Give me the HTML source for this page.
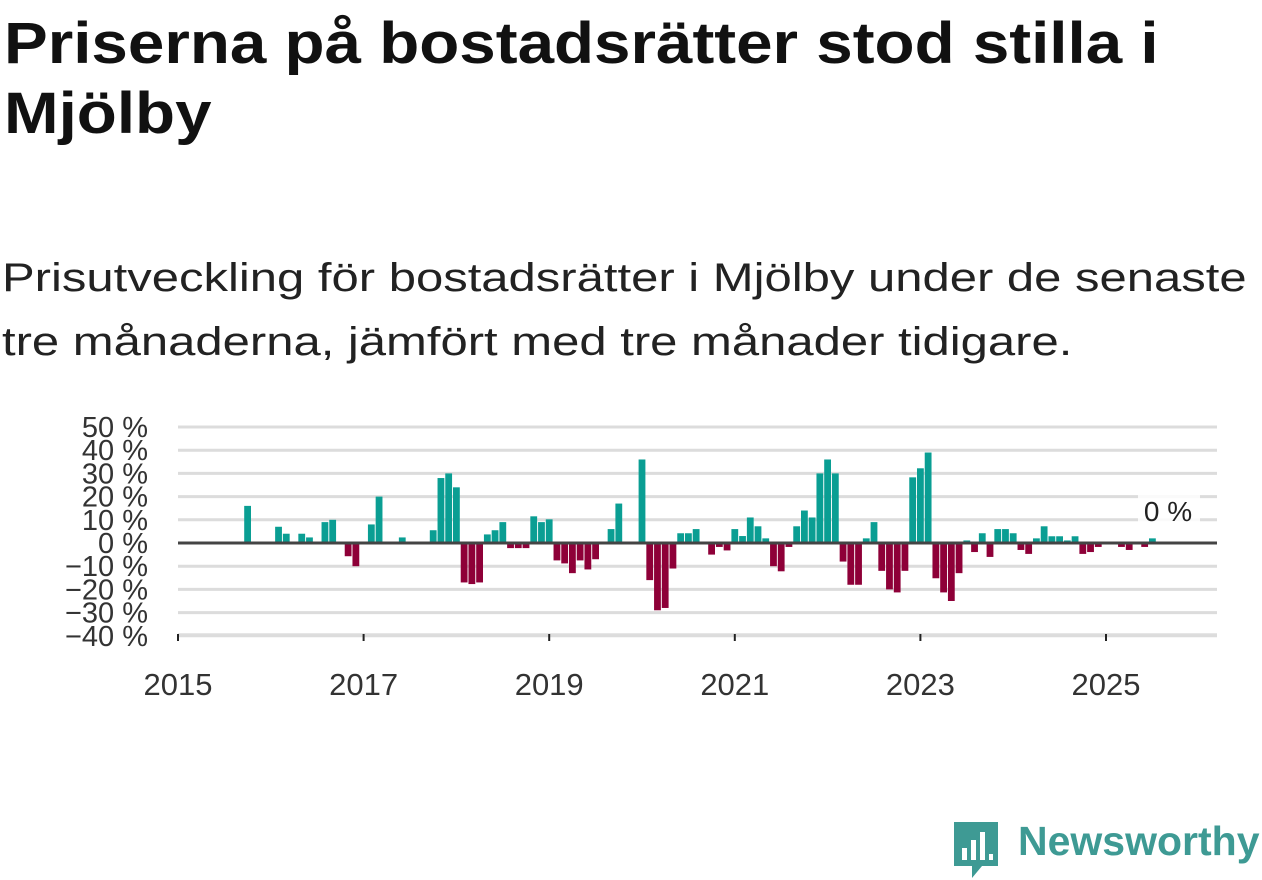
<!DOCTYPE html>
<html><head><meta charset="utf-8">
<style>
body{margin:0;width:1262px;height:879px;background:#fff;font-family:"Liberation Sans","DejaVu Sans",sans-serif;overflow:hidden;position:relative}
.ln{position:absolute;white-space:nowrap;transform-origin:0 0;margin:0}
.t{font-size:58px;font-weight:bold;color:#111;transform:scaleX(1.13)}
.s{font-size:40px;color:#222;transform:scaleX(1.225)}
svg{position:absolute;left:0;top:0}
</style></head><body>
<div>
<div class="ln t" style="left:4px;top:10px">Priserna på bostadsrätter stod stilla i</div>
<div class="ln t" style="left:4px;top:80px">Mjölby</div>
</div>
<div>
<div class="ln s" style="left:2px;top:256px">Prisutveckling för bostadsrätter i Mjölby under de senaste</div>
<div class="ln s" style="left:2px;top:320px">tre månaderna, jämfört med tre månader tidigare.</div>
</div>
<svg id="chart" width="1262" height="879"></svg>
<div style="position:absolute;left:952px;top:818px;height:60px;">
  <svg width="50" height="60" style="position:absolute;left:0;top:2px">
    <path d="M2 2 H46 V46 H30 L20 58 L20 46 H2 Z" fill="#3e9a94"/>
    <rect x="10" y="28" width="5" height="12" fill="#fff"/><rect x="19" y="20" width="5" height="20" fill="#fff"/><rect x="28" y="12" width="5" height="28" fill="#fff"/><rect x="37" y="34" width="4" height="6" fill="#fff"/>
  </svg>
  <span style="position:absolute;left:66px;top:0;font-size:41px;font-weight:bold;color:#3e9a94;white-space:nowrap">Newsworthy</span>
</div>
<script>
const yearTicks = [2015, 2017, 2019, 2021, 2023, 2025];
const yTicks = [50, 40, 30, 20, 10, 0, -10, -20, -30, -40];
// monthly values starting Jan 2015 (index 0)
const monthIdx = [9,13,14,16,17,19,20,22,23,25,26,29,33,34,35,36,37,38,39,40,41,42,43,44,45,46,47,48,49,50,51,52,53,54,56,57,60,61,62,63,64,65,66,67,69,70,71,72,73,74,75,76,77,78,79,80,81,82,83,84,85,86,87,88,89,90,91,92,93,94,95,96,97,98,99,100,101,102,103,104,105,106,107,108,109,110,111,112,113,114,115,116,117,118,119,122,123,125,126];
const values = [16,7,4,4,2.4,9,10,-5.7,-10,8,20,2.4,5.5,28,30,24,-17,-17.7,-17,3.7,5.5,9,-2.2,-2.2,-2.2,11.5,9,10.2,-7.5,-8.8,-13,-7.5,-11.4,-7,6,17,36,-16,-29,-28,-11,4.2,4.2,6,-5,-1.7,-3.2,6,3,11,7.2,2,-10,-12.2,-1.7,7.2,14,11,30,36,30,-8,-18,-18,2,9,-12,-20,-21.3,-12,28.3,32.2,39,-15.2,-21.3,-25,-13,1.1,-3.9,4.2,-6,6,6,4.2,-3,-4.7,2,7.2,2.9,2.9,1.1,2.9,-4.7,-3.9,-1.7,-1.7,-3,-1.7,2];
const lastLabel = "0 %";

const svg = document.getElementById('chart');
const NS = 'http://www.w3.org/2000/svg';
const x0 = 178, pxPerYear = 92.8;
const X = m => x0 + (m / 12) * pxPerYear;
const XY = yr => x0 + (yr - 2015) * pxPerYear;
const Y = v => 543 - v * 2.32;
function mk(tag, attrs){const e=document.createElementNS(NS,tag);for(const k in attrs)e.setAttribute(k,attrs[k]);svg.appendChild(e);return e;}

yTicks.forEach(t=>{
  const g = mk('line',{x1:178,x2:1217,y1:Y(t),y2:Y(t),stroke:'#dcdcdc','stroke-width':3});
  
  
  const l = mk('text',{x:148,y:Y(t)+10,'text-anchor':'end','font-size':29,fill:'#333'});
  l.textContent = (t<0?'−'+(-t):t)+' %';
  
  
});
const ax = mk('line',{x1:178,x2:1217,y1:634,y2:634,stroke:'#ddd','stroke-width':1.5});


yearTicks.forEach(yr=>{
  const tk = mk('line',{x1:XY(yr),x2:XY(yr),y1:634,y2:641,stroke:'#222','stroke-width':2});
  
  
  const l = mk('text',{x:XY(yr),y:695,'text-anchor':'middle','font-size':31,fill:'#333'});
  l.textContent = yr;
  
  
});
monthIdx.forEach((m,i)=>{
  const v = values[i];
  const cx = X(m);
  const r = mk('rect',{x:cx-3.4,width:6.8,y:v>=0?Y(v):Y(0),height:Math.abs(Y(v)-Y(0)),fill:v>=0?'#0a9e93':'#8e0038'});
  
  
});
const zl = mk('line',{x1:178,x2:1217,y1:Y(0),y2:Y(0),stroke:'#444','stroke-width':3});


const bg = mk('rect',{x:1138,y:493,width:62,height:36,fill:'#fff','fill-opacity':0.85});


const lv = mk('text',{x:1168,y:521,'text-anchor':'middle','font-size':28,fill:'#222'});
lv.textContent = lastLabel;


</script>
</body></html>
